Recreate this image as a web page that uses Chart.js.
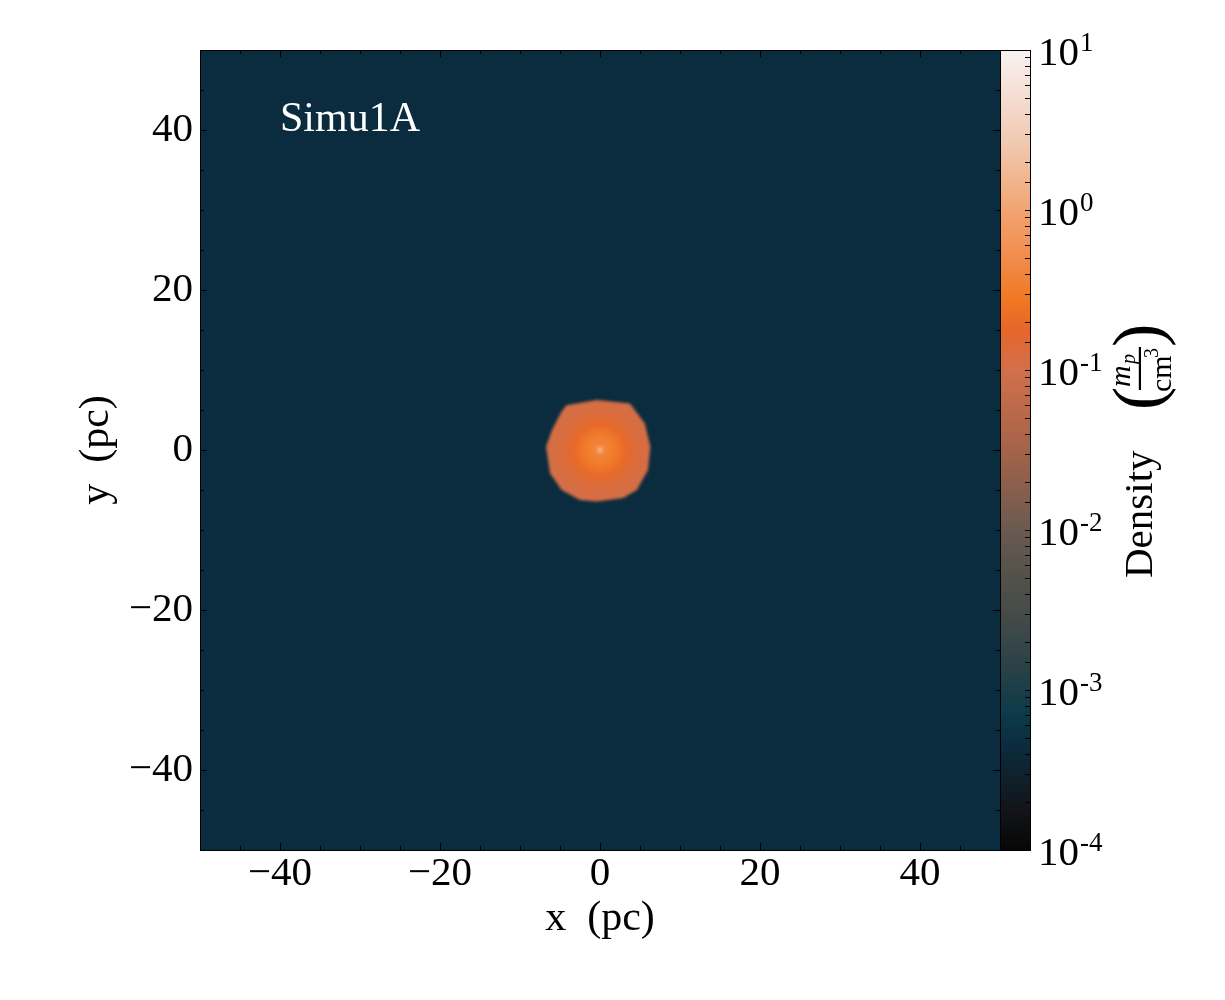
<!DOCTYPE html>
<html>
<head>
<meta charset="utf-8">
<script src="https://cdn.jsdelivr.net/npm/chart.js@4.4.1/dist/chart.umd.min.js"></script>
<style>
  html, body { margin: 0; padding: 0; background: #fff; }
  #wrap { width: 1225px; height: 1000px; }
</style>
</head>
<body>
<div id="wrap"><canvas id="densityChart" width="1225" height="1000"></canvas></div>
<script>
// Data

const label = "Simu1A";
const majorTicks = [-40, -20, 0, 20, 40];
const cbDecades = [-4, -3, -2, -1, 0, 1];

// background density (m_p/cm^3)
const bgDensity = 4.5e-4;

// outline of the dense cloud (pc)
const blobX = [-4.2, -0.4, 3.75, 5.6, 6.3, 6.0, 4.6, 2.9, -0.4, -2.5, -4.8, -6.25, -6.75, -6.0, -4.8];
const blobY = [5.6, 6.25, 5.8, 3.3, 0.4, -2.5, -5.0, -6.0, -6.45, -6.25, -5.0, -2.9, 0.4, 2.5, 4.8];

// radial density profile of the cloud (pc, m_p/cm^3)
const profileR = [0, 0.25, 0.6, 2, 3.2, 4.5, 6, 7];
const profileD = [4, 1.0, 0.4, 0.3, 0.19, 0.13, 0.11, 0.1];

// colour map: log10(density) -> colour
const cmapLevels = [-4, -3.75, -3.5, -3.35, -3.15, -2.85, -2.55, -2.25, -2, -1.5, -1, -0.75, -0.56, -0.3, 0, 0.4, 0.7, 1];
const cmapColors = ["#070707", "#121419", "#0f2330", "#0b2c3e", "#0d3a4a", "#2a4247", "#444a49", "#56524c",
  "#6a5a50", "#a4634a", "#d2704a", "#e6662a", "#f07822", "#f18c4c", "#f2a472", "#f0c8ae", "#f4dcd0", "#f8f2f2"];

const serif = "'Liberation Serif', 'DejaVu Serif', serif";

function hexToRgb(h) {
  return [parseInt(h.slice(1, 3), 16), parseInt(h.slice(3, 5), 16), parseInt(h.slice(5, 7), 16)];
}

function cmap(logD) {
  if (logD <= cmapLevels[0]) return cmapColors[0];
  for (let i = 1; i < cmapLevels.length; i++) {
    if (logD <= cmapLevels[i]) {
      const t = (logD - cmapLevels[i - 1]) / (cmapLevels[i] - cmapLevels[i - 1]);
      const a = hexToRgb(cmapColors[i - 1]);
      const b = hexToRgb(cmapColors[i]);
      const c = a.map((v, k) => Math.round(v + (b[k] - v) * t));
      return "rgb(" + c.join(",") + ")";
    }
  }
  return cmapColors[cmapColors.length - 1];
}

function fmt(v) {
  return v < 0 ? "\u2212" + Math.abs(v) : String(v);
}

// Density map + frame, ticks and colour bar

const densityPlugin = {
  id: "densityMap",
  beforeDatasetsDraw(chart) {
    const { ctx, chartArea: a, scales } = chart;
    const sx = scales.x, sy = scales.y;
    ctx.save();
    ctx.beginPath();
    ctx.rect(a.left, a.top, a.right - a.left, a.bottom - a.top);
    ctx.clip();
    ctx.fillStyle = cmap(Math.log10(bgDensity));
    ctx.fillRect(a.left, a.top, a.right - a.left, a.bottom - a.top);

    const cx = sx.getPixelForValue(0), cy = sy.getPixelForValue(0);
    const rMax = profileR[profileR.length - 1];
    const R = Math.abs(sx.getPixelForValue(rMax) - cx);
    const grad = ctx.createRadialGradient(cx, cy, 0, cx, cy, R);
    profileR.forEach((r, i) => grad.addColorStop(r / rMax, cmap(Math.log10(profileD[i]))));

    ctx.filter = "blur(1.6px)";
    ctx.beginPath();
    blobX.forEach((x, i) => {
      const px = sx.getPixelForValue(x), py = sy.getPixelForValue(blobY[i]);
      if (i === 0) ctx.moveTo(px, py); else ctx.lineTo(px, py);
    });
    ctx.closePath();
    ctx.fillStyle = grad;
    ctx.fill();
    ctx.filter = "none";

    ctx.fillStyle = "#ffffff";
    ctx.font = "42px " + serif;
    ctx.textAlign = "left";
    ctx.textBaseline = "alphabetic";
    ctx.fillText(label, sx.getPixelForValue(-40), sy.getPixelForValue(40) + 1);
    ctx.restore();
  },
  afterDraw(chart) {
    const { ctx, chartArea: a, scales } = chart;
    const sx = scales.x, sy = scales.y, cb = scales.cb;
    ctx.save();
    ctx.strokeStyle = "#000";
    ctx.lineWidth = 1;

    // ticks on all four sides, pointing in
    ctx.beginPath();
    sx.ticks.forEach(t => {
      const p = Math.round(sx.getPixelForValue(t.value)) + 0.5;
      const len = majorTicks.includes(t.value) ? 7 : 4;
      ctx.moveTo(p, a.bottom); ctx.lineTo(p, a.bottom - len);
      ctx.moveTo(p, a.top); ctx.lineTo(p, a.top + len);
    });
    sy.ticks.forEach(t => {
      const p = Math.round(sy.getPixelForValue(t.value)) + 0.5;
      const len = majorTicks.includes(t.value) ? 7 : 4;
      ctx.moveTo(a.left, p); ctx.lineTo(a.left + len, p);
      ctx.moveTo(a.right, p); ctx.lineTo(a.right - len, p);
    });
    ctx.stroke();
    ctx.strokeRect(a.left + 0.5, a.top + 0.5, a.right - a.left, a.bottom - a.top);

    // colour bar
    const cbL = a.right, cbW = 30;
    const top = cb.getPixelForValue(10), bot = cb.getPixelForValue(1e-4);
    const g = ctx.createLinearGradient(0, bot, 0, top);
    cmapLevels.forEach((l, i) => g.addColorStop((l + 4) / 5, cmapColors[i]));
    ctx.fillStyle = g;
    ctx.fillRect(cbL, top, cbW, bot - top);
    ctx.strokeRect(cbL + 0.5, top + 0.5, cbW, bot - top);

    ctx.beginPath();
    cb.ticks.forEach(t => {
      const p = Math.round(cb.getPixelForValue(t.value)) + 0.5;
      ctx.moveTo(cbL + cbW, p); ctx.lineTo(cbL + cbW - 5, p);
    });
    ctx.stroke();

    ctx.fillStyle = "#000";
    ctx.textAlign = "left";
    ctx.textBaseline = "alphabetic";
    cbDecades.forEach(d => {
      const p = cb.getPixelForValue(Math.pow(10, d));
      ctx.font = "41px " + serif;
      ctx.fillText("10", cbL + 38, p + 15);
      const w = ctx.measureText("10").width;
      ctx.font = "27px " + serif;
      ctx.fillText(String(d), cbL + 38 + w + 1, p + 1);
    });

    // colour bar title, rotated
    ctx.translate(1140, (top + bot) / 2);
    ctx.rotate(-Math.PI / 2);
    ctx.font = "41px " + serif;
    ctx.textAlign = "left";
    ctx.fillText("Density", -128, 12);
    ctx.font = "70px " + serif;
    ctx.fillText("(", 40, 21);
    ctx.fillText(")", 103, 21);
    ctx.font = "italic 30px " + serif;
    ctx.fillText("m", 63, -10);
    ctx.font = "italic 20px " + serif;
    ctx.fillText("p", 86, -5);
    ctx.fillRect(60, -1.2, 43, 2.2);
    ctx.font = "30px " + serif;
    ctx.fillText("cm", 58, 31);
    ctx.font = "20px " + serif;
    ctx.fillText("3", 92, 18);
    ctx.restore();
  }
};

const tickFont = { family: serif, size: 41 };

new Chart(document.getElementById("densityChart"), {
  type: "scatter",
  data: {
    datasets: [{
      label: "cloud outline",
      data: blobX.map((x, i) => ({ x: x, y: blobY[i] })),
      pointRadius: 0,
      showLine: false
    }]
  },
  options: {
    responsive: false,
    animation: false,
    layout: { padding: { top: 50 } },
    plugins: { legend: { display: false }, tooltip: { enabled: false } },
    scales: {
      x: {
        type: "linear", position: "bottom", min: -50, max: 50,
        grid: { display: false, drawTicks: false }, border: { display: false },
        ticks: { stepSize: 5, autoSkip: false, maxRotation: 0, padding: 0, color: "#000", font: tickFont,
          callback: v => majorTicks.includes(v) ? fmt(v) : "" },
        title: { display: true, text: "x  (pc)", color: "#000", font: { family: serif, size: 42 }, padding: { top: 0, bottom: 56 } },
        afterFit: s => { s.height = 150; }
      },
      y: {
        type: "linear", position: "left", min: -50, max: 50,
        grid: { display: false, drawTicks: false }, border: { display: false },
        ticks: { stepSize: 5, autoSkip: false, padding: 7, color: "#000", font: tickFont,
          callback: v => majorTicks.includes(v) ? fmt(v) : "" },
        title: { display: true, text: "y  (pc)", color: "#000", font: { family: serif, size: 42 }, padding: { top: 72, bottom: 0 } },
        afterFit: s => { s.width = 200; }
      },
      cb: {
        type: "logarithmic", position: "right", min: 1e-4, max: 10,
        grid: { display: false }, border: { display: false },
        ticks: { display: false },
        afterFit: s => { s.width = 225; }
      }
    }
  },
  plugins: [densityPlugin]
});
</script>
</body>
</html>
